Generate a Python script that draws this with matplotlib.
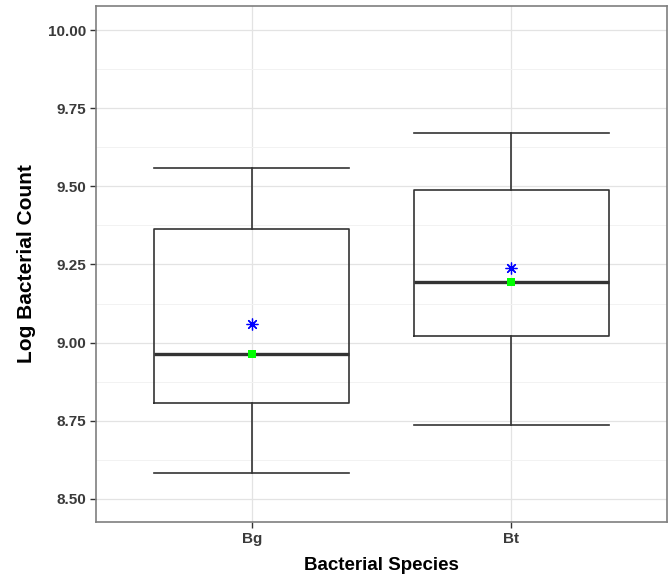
import matplotlib.pyplot as plt
import numpy as np
from matplotlib.ticker import FormatStrFormatter, MultipleLocator

# box summary values
species = ["Bg", "Bt"]
whisker_low = [8.584, 8.737]
q1 = [8.808, 9.022]
median = [8.964, 9.194]
q3 = [9.364, 9.488]
whisker_high = [9.559, 9.670]
mean = [9.060, 9.240]

plt.rcParams['font.family'] = ['Liberation Sans', 'DejaVu Sans']

fig = plt.figure(figsize=(6.72, 5.75), dpi=100)
ax = fig.add_axes([96 / 672, 53 / 575, 571 / 672, 516 / 575])

stats = []
for i, name in enumerate(species):
    stats.append(dict(label=name, whislo=whisker_low[i], q1=q1[i], med=median[i],
                      q3=q3[i], whishi=whisker_high[i]))

pos = np.arange(1, len(species) + 1)
line = dict(color='#333333', lw=1.2)
ax.bxp(stats, positions=pos, widths=0.75, capwidths=0.75, showfliers=False,
       boxprops=line, whiskerprops=line, capprops=line,
       medianprops=dict(color='#333333', lw=2.4), zorder=3)

# median (green square) and mean (blue asterisk)
ax.plot(pos, median, ls='none', marker='s', ms=5.5, mew=0, color='#00ff00', zorder=4)
ax.plot(pos, mean, ls='none', marker=(8, 2, 0), ms=8.5, mew=0.9, color='#0000ff', zorder=4)

ax.set_xlim(0.4, 2.6)
ax.set_ylim(8.426, 10.077)
ax.yaxis.set_major_locator(MultipleLocator(0.25))
ax.yaxis.set_minor_locator(MultipleLocator(0.125))
ax.yaxis.set_major_formatter(FormatStrFormatter('%.2f'))
ax.set_xticks(pos)
ax.set_xticklabels(species)

ax.grid(True, which='major', color='#e3e3e3', lw=0.9, zorder=0)
ax.grid(True, which='minor', axis='y', color='#f2f2f2', lw=0.7, zorder=0)
ax.set_axisbelow(True)
ax.tick_params(which='minor', length=0)
ax.tick_params(which='major', length=4, width=1, color='#333333', labelcolor='#3a3a3a',
               labelsize=11, pad=3)
for lab in ax.get_xticklabels() + ax.get_yticklabels():
    lab.set_fontweight('bold')

for s in ax.spines.values():
    s.set_color('#7f7f7f')
    s.set_linewidth(1.2)

ax.set_xlabel("Bacterial Species", fontsize=13.5, fontweight='bold', labelpad=8)
ax.set_ylabel("Log Bacterial Count", fontsize=15, fontweight='bold', labelpad=9)

fig.savefig("out.png", dpi=100)
